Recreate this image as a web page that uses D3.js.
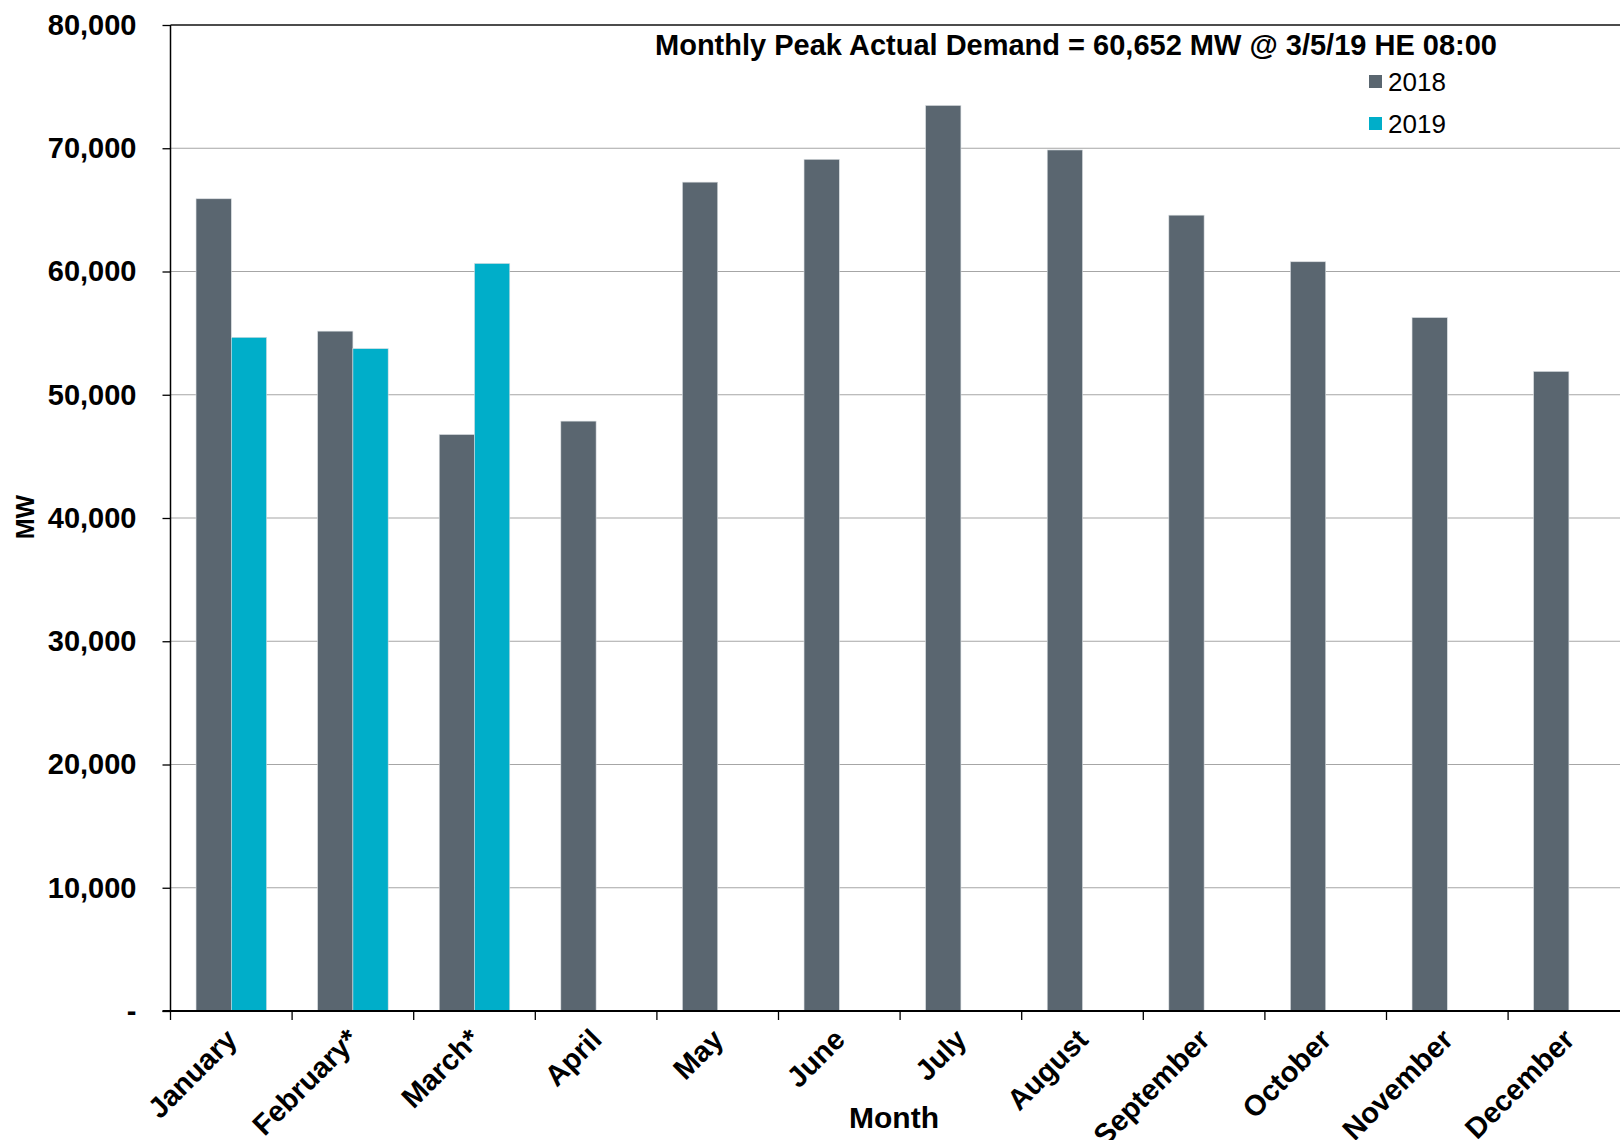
<!DOCTYPE html>
<html>
<head>
<meta charset="utf-8">
<script src="https://cdn.jsdelivr.net/npm/d3@7"></script>
<style>
  body { margin: 0; background: #fff; }
  svg { display: block; font-family: "Liberation Sans", Arial, sans-serif; }
  .axis text { font-weight: bold; font-size: 29px; fill: #000; }
  .axis path { display: none; }
  .axis line { stroke: #000; stroke-width: 1.3; }
</style>
</head>
<body>
<div id="chart"></div>
<script>
const width = 1620,
    height = 1140;

// data (MW)
const months = ['January', 'February*', 'March*', 'April', 'May', 'June', 'July',
    'August', 'September', 'October', 'November', 'December'];
const series = ['2018', '2019'];
const peak2018 = [65900, 55160, 46770, 47860, 67250, 69100, 73470, 69860, 64570, 60790, 56260, 51890];
const peak2019 = [54660, 53740, 60652, null, null, null, null, null, null, null, null, null];
const yTicks = [0, 10000, 20000, 30000, 40000, 50000, 60000, 70000, 80000];
const colors = ['#5a6670', '#00aec9'];
const title = 'Monthly Peak Actual Demand = 60,652 MW @ 3/5/19 HE 08:00';

const plotLeft = 170.5,
    plotTop = 25,
    plotBottom = 1011,
    step = 121.6,
    pad = 0.42;

const svg = d3.select('#chart')
    .append('svg')
    .attr('width', width)
    .attr('height', height);

const x0 = d3.scaleBand()
    .domain(months)
    .range([plotLeft, plotLeft + step * months.length])
    .paddingInner(pad)
    .paddingOuter(pad / 2);

const x1 = d3.scaleBand()
    .domain(series)
    .range([0, x0.bandwidth()]);

const y = d3.scaleLinear()
    .domain([0, 80000])
    .range([plotBottom, plotTop]);

const color = d3.scaleOrdinal().domain(series).range(colors);

// gridlines
svg.append('g')
    .selectAll('line')
    .data(yTicks.filter(d => d > 0))
    .enter()
    .append('line')
    .attr('x1', plotLeft)
    .attr('x2', width)
    .attr('y1', d => y(d))
    .attr('y2', d => y(d))
    .attr('stroke', d => d === 80000 ? '#111' : '#a6a6a6')
    .attr('stroke-width', d => d === 80000 ? 1.5 : 1.2);

// bars
const rows = months.map((m, i) => ({ month: m, values: [peak2018[i], peak2019[i]] }));

svg.append('g')
    .selectAll('g')
    .data(rows)
    .enter()
    .append('g')
    .attr('transform', d => 'translate(' + x0(d.month) + ',0)')
    .selectAll('rect')
    .data(d => series.map((s, j) => ({ key: s, value: d.values[j] })).filter(d => d.value != null))
    .enter()
    .append('rect')
    .attr('x', d => x1(d.key))
    .attr('width', x1.bandwidth())
    .attr('y', d => y(d.value))
    .attr('height', d => y(0) - y(d.value))
    .attr('fill', d => color(d.key))
    .attr('stroke', '#d8dde0')
    .attr('stroke-width', 0.6);

// y axis
const yAxis = d3.axisLeft(y)
    .tickValues(yTicks)
    .tickSize(8)
    .tickPadding(26)
    .tickFormat(d => d === 0 ? '-' : d3.format(',')(d));

svg.append('g')
    .attr('class', 'axis')
    .attr('transform', 'translate(' + plotLeft + ',0)')
    .call(yAxis);

svg.append('line')
    .attr('x1', plotLeft).attr('x2', plotLeft)
    .attr('y1', plotTop).attr('y2', plotBottom)
    .attr('stroke', '#000').attr('stroke-width', 1.5);

// x axis
svg.append('line')
    .attr('x1', plotLeft - 8).attr('x2', width)
    .attr('y1', plotBottom).attr('y2', plotBottom)
    .attr('stroke', '#000').attr('stroke-width', 1.8);

const bounds = months.map(m => x0(m) - x0.step() * pad / 2);
bounds.push(bounds[bounds.length - 1] + x0.step());

svg.append('g')
    .selectAll('line')
    .data(bounds)
    .enter()
    .append('line')
    .attr('x1', d => d).attr('x2', d => d)
    .attr('y1', plotBottom).attr('y2', plotBottom + 9)
    .attr('stroke', '#000').attr('stroke-width', 1.3);

// month labels, rotated like the Excel original
svg.append('g')
    .selectAll('text')
    .data(months)
    .enter()
    .append('text')
    .attr('transform', d => 'translate(' + (x0(d) + x0.bandwidth() / 2 - 7) + ',' + (plotBottom + 16) + ') rotate(-45)')
    .attr('text-anchor', 'end')
    .attr('dy', '0.7em')
    .style('font-weight', 'bold')
    .style('font-size', '29px')
    .text(d => d);

// axis titles
svg.append('text')
    .attr('transform', 'translate(34,517) rotate(-90)')
    .attr('text-anchor', 'middle')
    .style('font-weight', 'bold')
    .style('font-size', '25px')
    .text('MW');

svg.append('text')
    .attr('x', 894)
    .attr('y', 1128)
    .attr('text-anchor', 'middle')
    .style('font-weight', 'bold')
    .style('font-size', '30px')
    .text('Month');

// title
svg.append('text')
    .attr('x', 1076)
    .attr('y', 55)
    .attr('text-anchor', 'middle')
    .style('font-weight', 'bold')
    .style('font-size', '29px')
    .text(title);

// legend
const legend = svg.append('g')
    .selectAll('g')
    .data(series)
    .enter()
    .append('g')
    .attr('transform', (d, i) => 'translate(1369,' + (75 + i * 42) + ')');

legend.append('rect')
    .attr('width', 13)
    .attr('height', 13)
    .attr('fill', d => color(d));

legend.append('text')
    .attr('x', 19)
    .attr('y', 16)
    .style('font-size', '26px')
    .text(d => d);
</script>
</body>
</html>
